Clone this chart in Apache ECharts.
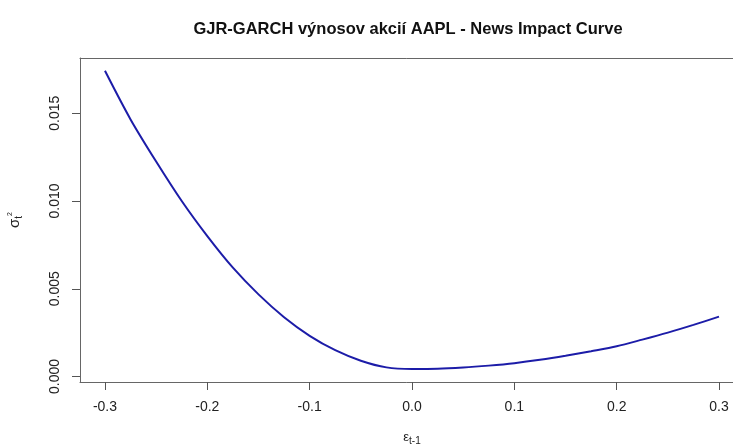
<!DOCTYPE html>
<html>
<head>
<meta charset="utf-8">
<script src="https://cdn.jsdelivr.net/npm/echarts@6/dist/echarts.min.js"></script>
<style>
html,body{margin:0;padding:0;background:#fff;}
#chart{width:733px;height:448px;}
</style>
</head>
<body>
<div id="chart"></div>
<script>
// News impact curve: shock epsilon_{t-1} vs conditional variance sigma_t^2
const epsValues = [-0.300,-0.275,-0.250,-0.225,-0.200,-0.175,-0.150,-0.125,-0.100,-0.075,-0.050,-0.025,
                   0.000,0.025,0.050,0.075,0.100,0.125,0.150,0.175,0.200,0.225,0.250,0.275,0.300];
const sigma2Values = [0.01742,0.01465,0.01225,0.01000,0.00800,0.00620,0.00468,0.00338,0.00232,0.00150,0.00090,0.00052,
                      0.00043,0.00044,0.00051,0.00062,0.00076,0.00095,0.00118,0.00144,0.00172,0.00210,0.00250,0.00294,0.00341];
const xTicks = [-0.3,-0.2,-0.1,0.0,0.1,0.2,0.3];
const yTicks = [0.000,0.005,0.010,0.015];
const titleText = 'GJR-GARCH výnosov akcií AAPL - News Impact Curve';

const chart = echarts.init(document.getElementById('chart'), null, {renderer:'canvas'});
const font = 'Liberation Sans, Arial, sans-serif';
const frame = {color:'#666', width:1};
chart.setOption({
  animation:false,
  backgroundColor:'#ffffff',
  title:{
    text:titleText,
    left:403, top:16, textAlign:'center',
    textStyle:{fontFamily:font,fontSize:16.5,fontWeight:'bold',color:'#111'}
  },
  grid:{left:80, top:58, width:664, height:324, outerBoundsMode:'none', containLabel:false, show:false},
  xAxis:[{
    type:'value', min:-0.3244, max:0.3244, position:'bottom',
    axisLine:{show:true, onZero:false, lineStyle:frame},
    splitLine:{show:false},
    axisTick:{show:true, inside:false, length:8, customValues:xTicks, lineStyle:{color:'#555'}},
    axisLabel:{customValues:xTicks, margin:18, fontFamily:font, fontSize:14, color:'#222',
      formatter:v=>v.toFixed(1)},
    name:'{e|ε}{s|t-1}', nameLocation:'middle', nameGap:46,
    nameTextStyle:{rich:{
      e:{fontFamily:font,fontSize:13,color:'#222'},
      s:{fontFamily:font,fontSize:10,color:'#222',padding:[8,0,0,0]}
    }}
  },{
    type:'value', min:-0.3244, max:0.3244, position:'top',
    axisLine:{show:true, onZero:false, lineStyle:frame},
    splitLine:{show:false}, axisTick:{show:false}, axisLabel:{show:false}
  }],
  yAxis:{
    type:'value', min:-0.000313, max:0.01815,
    axisLine:{show:true, onZero:false, lineStyle:frame},
    splitLine:{show:false},
    axisTick:{show:true, inside:false, length:8, customValues:yTicks, lineStyle:{color:'#555'}},
    axisLabel:{customValues:yTicks, margin:18, rotate:90, fontFamily:font, fontSize:14, color:'#222',
      formatter:v=>v.toFixed(3)},
    name:'{e|σ}{s|t}{p|2}', nameLocation:'middle', nameGap:56, nameRotate:90,
    nameTextStyle:{rich:{
      e:{fontFamily:font,fontSize:15,color:'#222'},
      s:{fontFamily:font,fontSize:10,color:'#222',padding:[8,0,0,0]},
      p:{fontFamily:font,fontSize:7,color:'#222',padding:[0,0,10,0]}
    }}
  },
  series:[{
    type:'line',
    xAxisIndex:0,
    data:epsValues.map((x,i)=>[x,sigma2Values[i]]),
    showSymbol:false,
    smooth:0.3,
    lineStyle:{color:'#1c1ca8', width:2},
    clip:false
  }]
});
</script>
</body>
</html>
